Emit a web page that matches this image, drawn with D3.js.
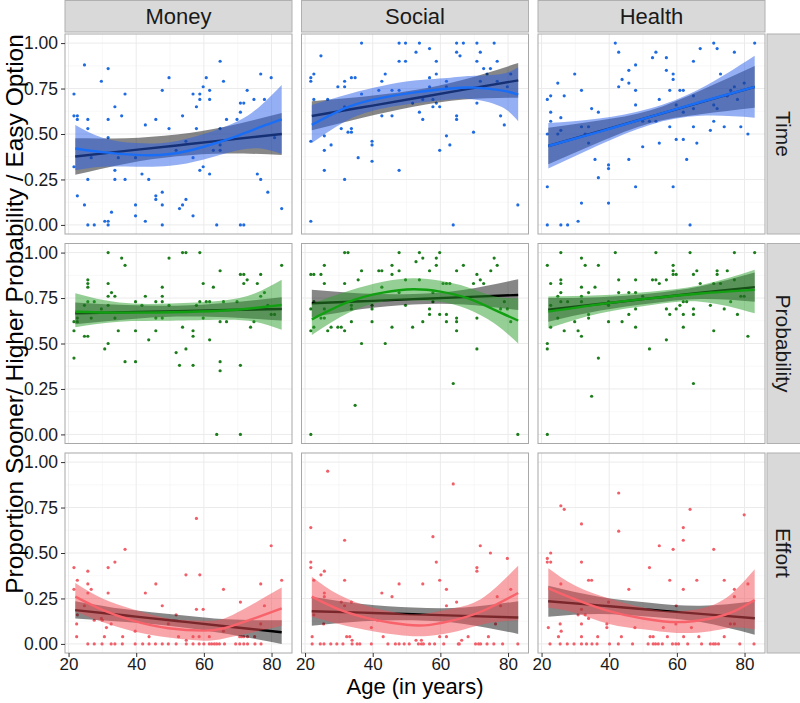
<!DOCTYPE html>
<html><head><meta charset="utf-8">
<script src="https://cdn.jsdelivr.net/npm/d3@7"></script>
<style>body{margin:0;background:#fff}svg{display:block;font-family:"Liberation Sans",Arial,Helvetica,sans-serif}</style>
</head><body><svg id="chart" width="800" height="703"></svg>
<script>
const columns = ["Money","Social","Health"];
const rows = ["Time","Probability","Effort"];
const xTicks = [20,40,60,80];
const yTicks = [0,0.25,0.5,0.75,1];
const xTitle = "Age (in years)";
const yTitle = "Proportion Sooner/ Higher Probability / Easy Option";

// ---- points [age, proportion] ----
const pts_Time_Money = [[21.6,0.72],[21.6,0.60],[22.6,0.60],[22.6,0.58],[21.6,0.32],[22.6,0.16],[24.7,0.88],[24.7,0.11],[25.7,0.58],[25.7,0.53],[25.7,0.25],[25.7,0],[26.7,0.37],[27.6,0],[29.7,0.79],[30.7,0.02],[31.7,0.02],[31.7,0],[31.7,0.86],[31.7,0.58],[31.7,0.48],[32.7,0.07],[33.7,0.65],[33.7,0.30],[33.7,0.25],[34.7,0.37],[35.7,0.60],[36.7,0.72],[36.7,0.25],[39.8,0.37],[39.8,0.11],[39.8,0.05],[41.7,0.28],[42.7,0.55],[42.7,0.02],[43.7,0.25],[45.8,0.58],[45.8,0.16],[45.8,0.14],[47.7,0.74],[47.7,0.18],[47.7,0.11],[47.7,0],[49.7,0.81],[49.7,0.53],[51.8,0.41],[52.8,0.09],[53.7,0.60],[53.7,0.11],[54.7,0.46],[54.7,0.14],[56.8,0.72],[56.8,0.37],[56.8,0.05],[57.8,0.65],[57.8,0.53],[58.8,0.72],[58.8,0.69],[58.8,0.30],[59.8,0.76],[59.8,0.32],[60.7,0.81],[61.7,0.74],[61.7,0.69],[61.7,0.28],[62.8,0.41],[63.8,0],[64.8,0.90],[64.8,0.53],[64.8,0.44],[64.8,0.41],[65.8,0.79],[66.7,0.58],[69.8,0.58],[70.8,0.67],[70.8,0.62],[70.8,0],[71.8,0.67],[71.8,0],[72.8,0.74],[74.8,0.69],[75.8,0.28],[76.8,0.83],[76.8,0.25],[77.9,0.69],[78.9,0.18],[79.9,0.81],[80.9,0.48],[83.0,0.09]];
const pts_Time_Social = [[21.7,0.02],[21.7,0.46],[21.7,0.79],[21.7,0.81],[22.6,0.83],[22.6,0.69],[24.7,0.93],[25.7,0.49],[25.7,0.41],[25.7,0.30],[26.7,0.69],[27.7,0.44],[29.7,0.76],[30.7,0.53],[31.7,0.79],[31.7,0.76],[31.7,0.65],[31.7,0.25],[32.7,0.51],[33.7,0.81],[33.7,0.53],[33.7,0.51],[34.8,0.81],[35.7,0.37],[36.7,1],[36.7,0.72],[39.8,0.46],[39.8,0.44],[39.8,0.35],[41.8,0.74],[42.7,0.79],[42.7,0.60],[43.7,0.83],[45.7,0.60],[45.7,0.74],[47.8,1],[47.8,0.90],[47.8,0.74],[47.8,0.30],[49.7,1],[49.7,0.90],[51.8,0.67],[52.8,0.95],[53.8,1],[53.8,0.62],[54.8,0.58],[54.8,0.69],[56.8,0.97],[56.8,0.81],[56.8,0.76],[57.8,0.65],[57.8,0.69],[58.8,0.90],[58.8,0.83],[58.8,0.67],[59.8,0.65],[59.8,0.41],[61.8,0.79],[61.8,0.76],[61.8,0.49],[62.8,0.44],[63.8,0],[64.8,1],[64.8,0.95],[64.8,0.60],[64.8,0.58],[65.8,0.93],[66.8,1],[69.8,0.51],[70.8,1],[70.8,0.90],[70.8,0.67],[71.8,0.95],[71.8,0.79],[72.8,0.86],[73.8,0.83],[74.8,0.86],[75.9,1],[76.8,0.90],[76.8,0.79],[77.8,0.60],[78.9,0.55],[79.8,0.76],[80.8,0.83],[82.9,0.11]];
const pts_Time_Health = [[21.7,0],[21.7,0.21],[21.7,0.50],[21.7,0.69],[22.7,0.71],[22.7,0.62],[22.7,0.57],[24.8,0.78],[24.8,0.50],[25.7,0],[25.7,0.59],[25.7,0.52],[26.7,0.71],[27.7,0],[29.8,0.83],[30.8,0.02],[31.8,0.74],[31.8,0.54],[31.8,0.12],[32.9,0.50],[33.9,0.54],[33.9,0.45],[34.8,0.64],[35.8,0.36],[36.8,0.62],[36.8,0.26],[39.8,0.33],[39.8,0.31],[39.8,0.12],[41.8,1],[42.8,0.95],[42.8,0.76],[43.8,0.80],[45.8,0.85],[45.8,0.78],[45.8,0.36],[47.8,0.88],[47.8,0.74],[47.8,0.66],[47.8,0.21],[49.9,0.57],[49.9,0.43],[51.9,0.57],[52.8,0.92],[53.8,0.95],[53.8,0.57],[54.8,0.69],[54.8,0.45],[56.9,0.92],[56.9,0.85],[57.9,0.74],[57.9,0.54],[58.9,0.83],[58.9,0.80],[58.9,0.21],[59.8,0.47],[59.8,0.66],[60.9,0.74],[61.9,0.74],[61.9,0.62],[61.9,0.47],[62.9,0.36],[63.9,0],[64.9,0.90],[64.9,0.71],[64.9,0.64],[64.9,0.54],[65.9,0.45],[66.9,0.97],[69.9,0.52],[70.9,1],[70.9,0.66],[70.9,0.57],[71.9,0.97],[71.9,0.64],[72.9,0.83],[74.0,0.54],[74.9,0.71],[75.9,0.74],[77.0,0.95],[77.0,0.76],[77.9,0.69],[78.9,0.54],[79.9,0.78],[81.0,0.50],[83.0,1]];
const pts_Probability_Money = [[21.6,0.62],[21.6,0.57],[21.6,0.42],[22.6,0.64],[22.6,0.62],[24.7,0.71],[24.7,0.54],[25.7,0.85],[25.7,0.83],[25.7,0.81],[25.7,0.73],[25.7,0.54],[26.7,0.64],[27.6,0.73],[29.7,0.69],[30.7,0.47],[31.7,1],[31.7,0.83],[31.7,0.76],[31.7,0.71],[31.7,0.50],[32.7,0.78],[33.7,0.76],[33.7,0.64],[34.7,0.57],[35.7,0.97],[36.7,0.93],[36.7,0.40],[39.8,0.73],[39.8,0.57],[39.8,0.40],[41.7,0.71],[42.7,0.76],[43.7,0.52],[45.8,0.73],[45.8,0.64],[45.8,0.57],[47.7,0.81],[47.7,0.76],[47.7,0.73],[47.7,0.64],[49.7,0.97],[49.7,0.71],[51.8,0.45],[52.8,0.38],[53.7,1],[53.7,0.59],[54.7,1],[54.7,0.47],[56.8,0.57],[56.8,0.54],[56.8,0.38],[57.8,0.71],[58.8,1],[58.8,0.73],[59.8,0.83],[59.8,0.64],[60.7,0.73],[61.7,0.73],[61.7,0.52],[62.8,0.81],[63.8,0],[64.8,0.90],[64.8,0.62],[64.8,0.40],[64.8,0.35],[65.8,0.73],[66.7,0.62],[69.8,0.73],[70.8,0.88],[70.8,0.38],[70.8,0],[71.8,0.88],[71.8,0.83],[72.8,0.85],[73.8,0.59],[74.8,0.62],[75.8,0.83],[76.8,0.88],[76.8,0.76],[77.9,0.78],[78.9,0.71],[79.9,0.66],[80.9,0.66],[83.0,0.93]];
const pts_Probability_Social = [[21.7,0.88],[22.6,0.88],[21.7,0.69],[21.7,0.57],[22.6,0.73],[22.6,0.59],[24.7,0.88],[25.7,0.93],[25.7,0.83],[25.7,0.69],[24.7,0.64],[25.7,0.64],[26.7,0.57],[27.7,0.59],[29.7,0.59],[30.7,0.59],[31.7,1],[32.7,1],[31.7,0.83],[31.7,0.57],[33.7,0.71],[33.7,0.69],[33.7,0.62],[34.8,0.16],[35.7,0.85],[36.7,0.90],[36.7,0.50],[39.8,0.71],[39.8,0.69],[39.8,0.62],[41.8,0.90],[42.7,0.90],[42.7,0.81],[43.7,0.50],[45.7,0.93],[45.7,0.88],[45.7,0.59],[47.8,1],[47.8,0.90],[47.8,0.78],[49.7,0.85],[49.7,0.71],[51.8,0.59],[52.8,0.95],[53.8,1],[53.8,0.85],[54.8,0.97],[54.8,0.62],[56.8,0.90],[56.8,0.69],[56.8,0.66],[57.8,0.78],[57.8,0.73],[58.8,0.97],[58.8,0.93],[59.8,1],[59.8,0.66],[60.8,0.83],[61.8,0.83],[62.8,0.83],[61.8,0.66],[61.8,0.62],[63.8,0.28],[64.8,0.90],[64.8,0.64],[64.8,0.62],[64.8,0.57],[66.8,0.93],[69.8,0.83],[70.8,0.88],[70.8,0.64],[70.8,0.47],[71.8,0.85],[72.8,0.83],[74.9,0.90],[75.9,0.97],[76.8,0.93],[77.8,0.69],[79.8,0.69],[80.8,0.62],[78.9,0.73],[21.7,0],[82.9,0]];
const pts_Probability_Health = [[21.7,0.93],[21.7,0.50],[21.7,0.47],[22.7,0.83],[22.7,0.71],[22.7,0.59],[24.8,0.76],[24.8,0.64],[25.7,1],[25.7,0.85],[25.7,0.83],[25.7,0.78],[25.7,0.73],[26.7,0.57],[27.7,0.73],[29.8,0.62],[30.8,0.57],[31.8,0.97],[31.8,0.81],[31.8,0.76],[31.8,0.73],[31.8,0.54],[32.9,0.93],[33.9,0.66],[33.9,0.64],[33.9,0.78],[34.8,0.21],[35.8,0.81],[36.8,0.93],[36.8,0.42],[39.8,0.73],[39.8,0.71],[39.8,0.62],[41.8,1],[42.8,0.85],[42.8,0.78],[43.8,0.62],[45.8,0.78],[45.8,0.66],[47.8,0.85],[47.8,0.78],[47.8,0.69],[47.8,0.59],[49.9,0.76],[51.9,0.47],[52.8,0.85],[53.8,1],[53.8,0.85],[54.8,0.83],[56.9,0.85],[56.9,0.69],[56.9,0.52],[57.9,0.66],[58.9,0.93],[58.9,0.90],[58.9,0.88],[59.8,0.88],[59.8,0.69],[60.9,0.71],[61.9,0.73],[61.9,0.66],[61.9,0.59],[62.9,0.73],[63.9,1],[64.9,0.88],[64.9,0.69],[64.9,0.66],[64.9,0.28],[65.9,0.90],[66.9,0.83],[69.9,0.71],[70.9,0.83],[70.9,0.57],[71.9,0.90],[71.9,0.88],[72.9,0.83],[74.0,0.69],[74.9,0.90],[75.9,0.73],[77.0,1],[77.0,0.85],[77.9,0.66],[78.9,0.76],[79.9,0.76],[81.0,0.54],[83.0,1],[21.7,0]];
const pts_Effort_Money = [[21.6,0.42],[22.6,0.35],[21.6,0.30],[25.7,0.40],[25.7,0.33],[26.7,0.30],[25.7,0.28],[31.7,0.42],[33.7,0.45],[36.7,0.52],[31.7,0.28],[42.7,0.28],[45.8,0.33],[47.7,0.21],[54.7,0.38],[57.8,0.69],[58.8,0.38],[65.8,0.30],[70.8,0.23],[76.8,0.33],[77.9,0.21],[79.9,0.54],[83.0,0.35],[57.8,0.19],[59.8,0.19],[51.8,0.16],[24.7,0.21],[29.7,0.14],[22.6,0.16],[22.4,0.11],[22.4,0.04],[27.6,0.13],[30.0,0.13],[30.6,0.04],[31.2,0.09],[32.6,0.11],[36,0.04],[39.7,0.07],[43.8,0.04],[49.5,0.11],[52.5,0.04],[54.8,0.02],[56.8,0.04],[58.6,0.04],[61.6,0.04],[65.8,0.07],[70.6,0.04],[71.2,0.04],[71.8,0.04],[72.9,0.04],[75,0.04],[76.8,0.11],[25.7,0],[27.6,0],[29.9,0],[32.6,0],[33.7,0],[35.9,0],[39.7,0],[41.9,0],[43.8,0],[45.7,0],[47.7,0],[49.5,0],[51.8,0],[54.8,0],[56.8,0],[58.6,0],[60.0,0],[61.6,0],[62.3,0],[63.1,0],[63.8,0],[64.6,0],[66.1,0],[69.4,0],[70.6,0],[71.8,0],[72.9,0],[75.1,0],[76.9,0]];
const pts_Effort_Social = [[26.7,0.95],[21.7,0.64],[31.7,0.57],[21.7,0.45],[21.7,0.42],[22.6,0.35],[24.7,0.38],[25.7,0.40],[31.7,0.35],[25.7,0.28],[25.7,0.26],[30.7,0.23],[31.7,0.21],[33.7,0.23],[42.7,0.28],[45.7,0.26],[47.8,0.33],[54.8,0.33],[57.8,0.59],[58.8,0.45],[59.8,0.35],[61.8,0.30],[61.8,0.21],[63.8,0.88],[64.8,0.23],[70.8,0.42],[70.8,0.40],[71.8,0.54],[74.8,0.50],[76.8,0.26],[77.8,0.21],[79.8,0.47],[80.8,0.30],[22.6,0.16],[22.1,0.04],[25.5,0.11],[32.3,0.04],[33.2,0.04],[33.9,0.02],[39.6,0.09],[41.4,0.13],[43.1,0.04],[52.8,0.02],[54.4,0.02],[59.8,0.04],[61.8,0.04],[66.3,0.02],[68.2,0.04],[74.2,0.04],[76.3,0.11],[22.1,0],[24.5,0],[25.6,0],[27.6,0],[29.4,0],[31.2,0],[33.9,0],[35.4,0],[36.2,0],[39.6,0],[44.5,0],[46.7,0],[47.8,0],[49.3,0],[50.8,0],[53.5,0],[54.4,0],[55.0,0],[56.8,0],[58.3,0],[61.0,0],[65.3,0],[65.6,0],[70.4,0],[71.3,0],[71.9,0],[73.8,0],[75.8,0],[78.4,0],[82.9,0]];
const pts_Effort_Health = [[42.8,0.83],[25.7,0.76],[26.7,0.74],[31.8,0.66],[42.8,0.62],[63.9,0.74],[79.9,0.71],[61.9,0.64],[61.9,0.57],[54.8,0.54],[58.9,0.52],[70.9,0.52],[21.7,0.47],[22.7,0.50],[21.7,0.45],[22.7,0.45],[31.8,0.45],[51.9,0.42],[33.9,0.35],[34.8,0.35],[25.7,0.33],[45.8,0.30],[57.9,0.35],[61.9,0.30],[65.9,0.35],[74.0,0.35],[81.0,0.33],[77.0,0.30],[77.0,0.26],[39.8,0.23],[59.8,0.21],[30.8,0.16],[31.8,0.19],[32.9,0.16],[33.9,0.14],[22.0,0.09],[25.0,0.04],[25.5,0.11],[25.8,0.07],[31.8,0.11],[31.8,0.04],[36.6,0.04],[39.3,0.11],[39.3,0.09],[43.6,0.04],[47.6,0.09],[52.1,0.04],[53.0,0.04],[56,0.09],[57.2,0.04],[59.7,0.11],[62,0.04],[64.3,0.09],[66.5,0.04],[74,0.04],[75.8,0.11],[77,0.11],[22.5,0],[25.5,0],[27.6,0],[29.6,0],[31.8,0],[33.3,0],[34.9,0],[36.4,0],[40.1,0],[42.7,0],[46.9,0],[51.5,0],[53.0,0],[53.7,0],[54.5,0],[55.7,0],[58.7,0],[59.7,0],[60.5,0],[63.2,0],[67.3,0],[69.9,0],[70.8,0],[71.4,0],[72.3,0],[78.6,0],[82.8,0]];

// ---- linear fits [age, fit, lower, upper] ----
const lm_Time_Money = [[22,0.376,0.276,0.476],[37,0.407,0.337,0.477],[52,0.437,0.377,0.497],[67,0.468,0.393,0.543],[83,0.50,0.385,0.615]];
const lm_Time_Social = [[22,0.599,0.52,0.68],[37,0.647,0.59,0.705],[52,0.695,0.65,0.74],[67,0.744,0.69,0.80],[83,0.795,0.70,0.89]];
const lm_Time_Health = [[22,0.434,0.334,0.534],[37,0.514,0.454,0.574],[52,0.594,0.559,0.629],[67,0.674,0.609,0.739],[83,0.759,0.644,0.874]];
const lm_Probability_Money = [[22,0.666,0.606,0.726],[37,0.672,0.632,0.712],[52,0.678,0.648,0.708],[67,0.684,0.644,0.724],[83,0.69,0.626,0.754]];
const lm_Probability_Social = [[22,0.721,0.644,0.795],[37,0.732,0.69,0.775],[52,0.744,0.715,0.772],[67,0.755,0.715,0.795],[83,0.767,0.684,0.853]];
const lm_Probability_Health = [[22,0.686,0.62,0.75],[37,0.717,0.68,0.755],[52,0.748,0.72,0.775],[67,0.779,0.745,0.815],[83,0.81,0.73,0.89]];
const lm_Effort_Money = [[22,0.186,0.14,0.235],[37,0.156,0.12,0.19],[52,0.126,0.095,0.16],[67,0.096,0.055,0.135],[83,0.064,0.0,0.13]];
const lm_Effort_Social = [[22,0.18,0.10,0.26],[37,0.172,0.125,0.22],[52,0.163,0.13,0.20],[67,0.154,0.11,0.20],[83,0.145,0.055,0.235]];
const lm_Effort_Health = [[22,0.235,0.15,0.32],[37,0.212,0.165,0.26],[52,0.188,0.15,0.227],[67,0.165,0.12,0.21],[83,0.141,0.05,0.235]];

// ---- loess fits [age, fit, lower, upper] ----
const lo_Time_Money = [[22,0.42,0.30,0.55],[30,0.40,0.32,0.48],[40,0.385,0.32,0.45],[50,0.39,0.325,0.455],[60,0.43,0.36,0.50],[70,0.49,0.41,0.57],[77,0.54,0.42,0.66],[83,0.58,0.39,0.77]];
const lo_Time_Social = [[22,0.55,0.45,0.66],[33,0.65,0.58,0.72],[43,0.70,0.64,0.765],[53,0.73,0.67,0.795],[63,0.75,0.69,0.81],[70,0.755,0.69,0.82],[78,0.74,0.65,0.83],[83,0.717,0.57,0.867]];
const lo_Time_Health = [[22,0.434,0.31,0.56],[37,0.512,0.44,0.585],[52,0.594,0.55,0.64],[67,0.676,0.60,0.75],[83,0.759,0.59,0.93]];
const lo_Probability_Money = [[22,0.675,0.59,0.776],[35,0.67,0.62,0.725],[50,0.672,0.625,0.72],[65,0.68,0.63,0.735],[75,0.695,0.62,0.775],[83,0.712,0.575,0.85]];
const lo_Probability_Social = [[22,0.633,0.547,0.72],[33,0.73,0.67,0.79],[43,0.78,0.73,0.84],[52,0.798,0.736,0.859],[60,0.785,0.73,0.845],[68,0.749,0.69,0.81],[76,0.685,0.61,0.76],[83,0.626,0.50,0.749]];
const lo_Probability_Health = [[22,0.675,0.584,0.758],[37,0.715,0.665,0.765],[52,0.748,0.71,0.785],[67,0.775,0.73,0.82],[83,0.795,0.666,0.905]];
const lo_Effort_Money = [[22,0.26,0.18,0.335],[30,0.187,0.12,0.25],[39,0.128,0.07,0.19],[49.5,0.086,0.035,0.14],[60,0.073,0.018,0.128],[66,0.086,0.03,0.14],[73.6,0.132,0.06,0.21],[83,0.196,0.10,0.31]];
const lo_Effort_Social = [[22,0.26,0.15,0.37],[30,0.19,0.11,0.27],[40,0.135,0.07,0.20],[50,0.105,0.045,0.165],[57,0.105,0.045,0.17],[65,0.135,0.07,0.20],[73,0.185,0.11,0.26],[83,0.28,0.13,0.43]];
const lo_Effort_Health = [[22,0.306,0.20,0.416],[30,0.245,0.17,0.32],[40,0.18,0.11,0.25],[50,0.14,0.08,0.20],[60,0.12,0.06,0.18],[70,0.14,0.07,0.21],[77,0.18,0.09,0.29],[83,0.242,0.08,0.41]];

const rowColors = {
  Time:        {pt:"#1f6be0", line:"#1a6ef5", fill:"#2a5fe8"},
  Probability: {pt:"#1d7d1d", line:"#12a012", fill:"#2ca02c"},
  Effort:      {pt:"#f0606a", line:"#f8636b", fill:"#f24d55"}
};
const data = {
  Time: {Money:[pts_Time_Money,lm_Time_Money,lo_Time_Money], Social:[pts_Time_Social,lm_Time_Social,lo_Time_Social], Health:[pts_Time_Health,lm_Time_Health,lo_Time_Health]},
  Probability: {Money:[pts_Probability_Money,lm_Probability_Money,lo_Probability_Money], Social:[pts_Probability_Social,lm_Probability_Social,lo_Probability_Social], Health:[pts_Probability_Health,lm_Probability_Health,lo_Probability_Health]},
  Effort: {Money:[pts_Effort_Money,lm_Effort_Money,lo_Effort_Money], Social:[pts_Effort_Social,lm_Effort_Social,lo_Effort_Social], Health:[pts_Effort_Health,lm_Effort_Health,lo_Effort_Health]}
};

const svg = d3.select("#chart");
const L = 65, T = 34, PW = 227, PH = 200, GAP = 9.5;
const x = d3.scaleLinear().domain([18.95, 86.05]).range([0, PW]);
const y = d3.scaleLinear().domain([-0.05, 1.05]).range([PH, 0]);

const area = d3.area().x(d=>x(d[0])).y0(d=>y(d[2])).y1(d=>y(d[3])).curve(d3.curveNatural);
const line = d3.line().x(d=>x(d[0])).y(d=>y(d[1])).curve(d3.curveNatural);

const defs = svg.append("defs");
defs.append("clipPath").attr("id","pclip").append("rect").attr("width",PW).attr("height",PH);

// top strips
columns.forEach((c,ci)=>{
  const gx = L + ci*(PW+GAP);
  svg.append("rect").attr("x",gx).attr("y",0.5).attr("width",PW).attr("height",31.5)
    .attr("fill","#d9d9d9").attr("stroke","#b0b0b0").attr("stroke-width",1);
  svg.append("text").attr("x",gx+PW/2).attr("y",24).attr("text-anchor","middle")
    .attr("font-size",22).attr("fill","#1a1a1a").text(c);
});
// right strips
rows.forEach((r,ri)=>{
  const gy = T + ri*(PH+GAP);
  svg.append("rect").attr("x",767).attr("y",gy).attr("width",34).attr("height",PH)
    .attr("fill","#d9d9d9").attr("stroke","#b0b0b0").attr("stroke-width",1);
  svg.append("text").attr("transform",`translate(${775.5},${gy+PH/2}) rotate(90)`)
    .attr("text-anchor","middle").attr("font-size",21).attr("fill","#1a1a1a").text(r);
});

rows.forEach((r,ri)=>{
  columns.forEach((c,ci)=>{
    const gx = L + ci*(PW+GAP), gy = T + ri*(PH+GAP);
    const g = svg.append("g").attr("transform",`translate(${gx},${gy})`);
    g.append("rect").attr("width",PW).attr("height",PH).attr("fill","#fff");
    [30,50,70].forEach(v=>g.append("line").attr("x1",x(v)).attr("x2",x(v)).attr("y1",0).attr("y2",PH).attr("stroke","#f4f4f4").attr("stroke-width",0.6));
    [0.125,0.375,0.625,0.875].forEach(v=>g.append("line").attr("y1",y(v)).attr("y2",y(v)).attr("x1",0).attr("x2",PW).attr("stroke","#f4f4f4").attr("stroke-width",0.6));
    xTicks.forEach(v=>g.append("line").attr("x1",x(v)).attr("x2",x(v)).attr("y1",0).attr("y2",PH).attr("stroke","#ebebeb").attr("stroke-width",1));
    yTicks.forEach(v=>g.append("line").attr("y1",y(v)).attr("y2",y(v)).attr("x1",0).attr("x2",PW).attr("stroke","#ebebeb").attr("stroke-width",1));

    const [pts, lm, lo] = data[r][c];
    const col = rowColors[r];
    const inner = g.append("g").attr("clip-path","url(#pclip)");
    inner.selectAll("circle").data(pts).join("circle")
      .attr("cx",d=>x(d[0])).attr("cy",d=>y(d[1])).attr("r",1.6).attr("fill",col.pt);
    inner.append("path").datum(lm).attr("d",area).attr("fill","#000").attr("fill-opacity",0.47);
    inner.append("path").datum(lm).attr("d",line).attr("fill","none").attr("stroke","#000").attr("stroke-width",2.4);
    inner.append("path").datum(lo).attr("d",area).attr("fill",col.fill).attr("fill-opacity",0.5);
    inner.append("path").datum(lo).attr("d",line).attr("fill","none").attr("stroke",col.line).attr("stroke-width",2.4);

    g.append("rect").attr("width",PW).attr("height",PH).attr("fill","none").attr("stroke","#a8a8a8").attr("stroke-width",1);

    if(ci===0){
      const ax = g.append("g").call(d3.axisLeft(y).tickValues(yTicks).tickFormat(d3.format(".2f")).tickSize(4).tickPadding(3));
      ax.select(".domain").remove();
      ax.selectAll("line").attr("stroke","#333");
      ax.selectAll("text").attr("font-size",17.5).attr("fill","#1a1a1a").attr("font-family","Liberation Sans, Arial, sans-serif");
    }
    if(ri===2){
      const ax = g.append("g").attr("transform",`translate(0,${PH})`).call(d3.axisBottom(x).tickValues(xTicks).tickSize(4).tickPadding(1));
      ax.select(".domain").remove();
      ax.selectAll("line").attr("stroke","#333");
      ax.selectAll("text").attr("font-size",17).attr("fill","#1a1a1a").attr("font-family","Liberation Sans, Arial, sans-serif");
    }
  });
});

svg.append("text").attr("x", L + (3*PW+2*GAP)/2).attr("y",694).attr("text-anchor","middle")
  .attr("font-size",22).attr("fill","#000").text(xTitle);
svg.append("text").attr("transform",`translate(23,314) rotate(-90)`).attr("text-anchor","middle")
  .attr("font-size",24.5).attr("fill","#000").text(yTitle);
</script>
</body></html>
